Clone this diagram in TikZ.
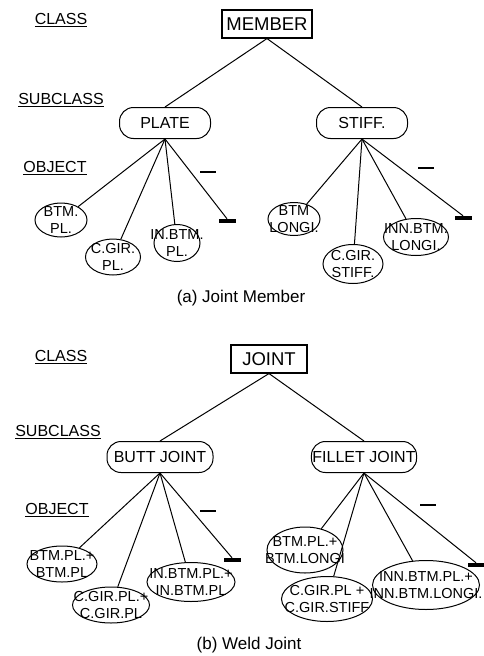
\documentclass[tikz,border=0pt]{standalone}
\usepackage{fontspec}
\setmainfont{Liberation Sans}
\usetikzlibrary{shapes.geometric, positioning}

\begin{document}
\begin{tikzpicture}[x=1pt, y=-1pt, line width=1pt,
    level/.style={font=\fontsize{16}{18}\selectfont},
    classbox/.style={draw, rectangle, line width=1.1pt, minimum height=28, inner sep=2pt, font=\fontsize{18.5}{20}\selectfont},
    subbox/.style={draw, rectangle, rounded corners=14pt, minimum height=31, inner sep=1pt, font=\fontsize{16}{18}\selectfont},
    objnode/.style={draw, ellipse, inner sep=0pt},
    objtxt/.style={align=center, font=\fontsize{14.5}{17.5}\selectfont},
    barmark/.style={fill=black, rectangle, inner sep=0pt, minimum width=17, minimum height=3.5},
    dashmark/.style={fill=black, rectangle, inner sep=0pt, minimum width=16, minimum height=1.6},
    caption/.style={font=\fontsize{17}{20}\selectfont}]
        \useasboundingbox (0,0) rectangle (484,656);

        % (a) Joint Member
        \node[level] (classa) at (61,20) {\underline{CLASS}};
        \node[level] (subclassa) at (61,100) {\underline{SUBCLASS}};
        \node[level] (objecta) at (55,168) {\underline{OBJECT}};

        \node[classbox, minimum width=90] (member) at (267,24) {MEMBER};
        \node[subbox, minimum width=91] (plate) at (165,123) {PLATE};
        \node[subbox, minimum width=91] (stiff) at (362,123) {STIFF.};
        \draw (member.south) -- (plate.north);
        \draw (member.south) -- (stiff.north);

        \node[objnode, minimum width=52, minimum height=34, label={[objtxt]center:BTM.\\PL.}] (btmpl) at (61,220) {};
        \node[objnode, minimum width=55, minimum height=36, label={[objtxt]center:C.GIR.\\PL.}] (cgirpl) at (113,257) {};
        \node[objnode, minimum width=46, minimum height=37, label={[objtxt]center:IN.BTM.\\PL.}] (inbtmpl) at (177,243) {};
        \node[barmark] (platebar) at (227,221) {};
        \node[dashmark] (platedash) at (208,172) {};
        \draw (plate.south) -- (btmpl);
        \draw (plate.south) -- (cgirpl);
        \draw (plate.south) -- (inbtmpl);
        \draw (plate.south) -- (platebar.north);

        \node[objnode, minimum width=52, minimum height=33, label={[objtxt]center:BTM\\LONGI.}] (btmlongi) at (294,219) {};
        \node[objnode, minimum width=60, minimum height=39, label={[objtxt]center:C.GIR.\\STIFF.}] (cgirstiff) at (353,264) {};
        \node[objnode, minimum width=65, minimum height=37, label={[objtxt]center:INN.BTM.\\LONGI.}] (innbtmlongi) at (416,237) {};
        \node[barmark] (stiffbar) at (463,218) {};
        \node[dashmark] (stiffdash) at (426,168) {};
        \draw (stiff.south) -- (btmlongi);
        \draw (stiff.south) -- (cgirstiff);
        \draw (stiff.south) -- (innbtmlongi);
        \draw (stiff.south) -- (stiffbar.north);

        \node[caption] (capa) at (241,298) {(a) Joint Member};

        % (b) Weld Joint
        \node[level] (classb) at (61,357) {\underline{CLASS}};
        \node[level] (subclassb) at (58,432) {\underline{SUBCLASS}};
        \node[level] (objectb) at (57,510) {\underline{OBJECT}};

        \node[classbox, minimum width=76] (joint) at (269,359) {JOINT};
        \node[subbox, minimum width=106] (butt) at (160,457) {BUTT JOINT};
        \node[subbox, minimum width=105] (fillet) at (364,457) {FILLET JOINT};
        \draw (joint.south) -- (butt.north);
        \draw (joint.south) -- (fillet.north);

        \node[objnode, minimum width=70, minimum height=36, label={[objtxt]center:BTM.PL.+\\BTM.PL}] (bbtm) at (62,564) {};
        \node[objnode, minimum width=77, minimum height=36, label={[objtxt]center:C.GIR.PL.+\\C.GIR.PL}] (bcgir) at (111,605) {};
        \node[objnode, minimum width=88, minimum height=39, label={[objtxt]center:IN.BTM.PL.+\\IN.BTM.PL}] (binbtm) at (191,582) {};
        \node[barmark] (buttbar) at (232,560) {};
        \node[dashmark] (buttdash) at (208,511) {};
        \draw (butt.south) -- (bbtm);
        \draw (butt.south) -- (bcgir);
        \draw (butt.south) -- (binbtm);
        \draw (butt.south) -- (buttbar.north);

        \node[objnode, minimum width=76, minimum height=46, label={[objtxt]center:BTM.PL.+\\BTM.LONGI}] (fbtm) at (305,550) {};
        \node[objnode, minimum width=91, minimum height=45, label={[objtxt]center:C.GIR.PL +\\C.GIR.STIFF}] (fcgir) at (327,599) {};
        \node[objnode, minimum width=107, minimum height=49, label={[objtxt]center:INN.BTM.PL.+\\INN.BTM.LONGI.}] (finn) at (426,585) {};
        \node[barmark] (filletbar) at (476,565) {};
        \node[dashmark] (filletdash) at (428,505) {};
        \draw (fillet.south) -- (fbtm);
        \draw (fillet.south) -- (fcgir);
        \draw (fillet.south) -- (finn);
        \draw (fillet.south) -- (filletbar.north);

        \node[caption] (capb) at (249,645) {(b) Weld Joint};
\end{tikzpicture}
\end{document}
